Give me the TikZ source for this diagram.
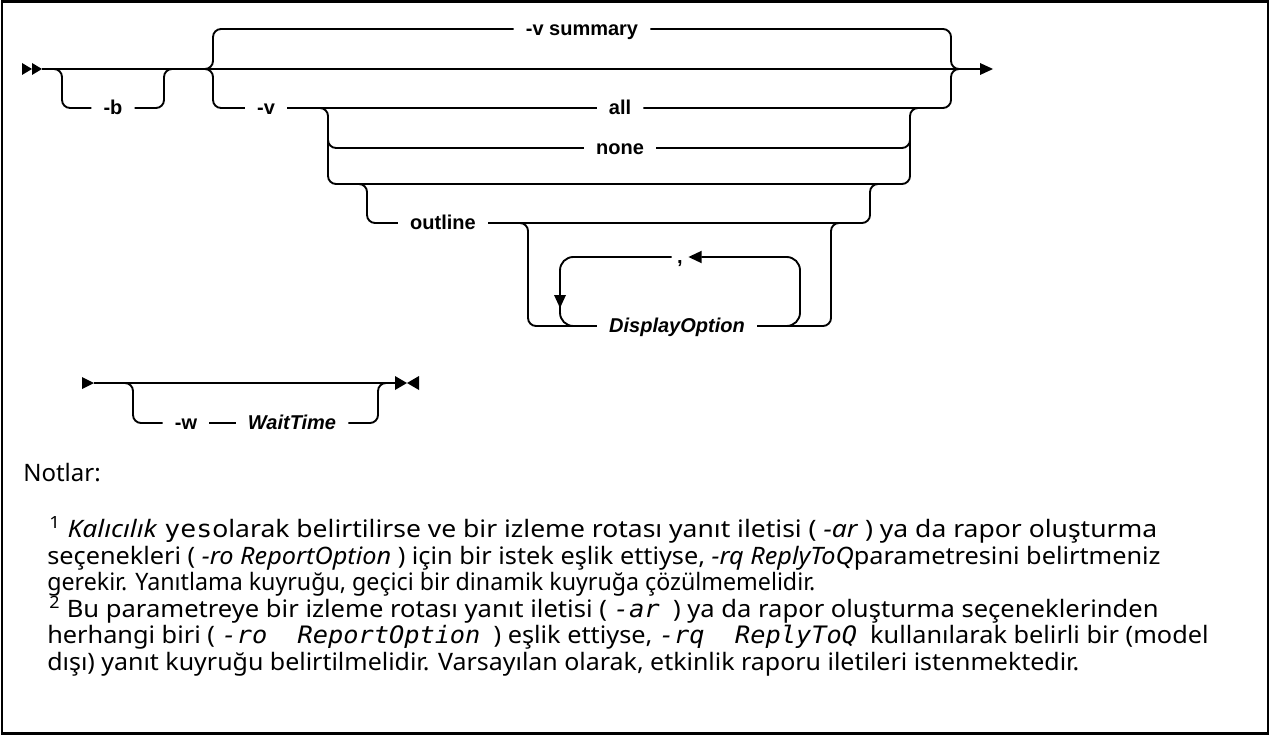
\documentclass[tikz,border=0pt]{standalone}
\usepackage{fontspec}
\usepackage{graphicx}
\setmainfont{Noto Sans}
\setmonofont{DejaVu Sans Mono}
\newfontfamily\lblfont{Liberation Sans}
\usetikzlibrary{arrows.meta}
\newcommand{\fitline}[2]{\resizebox{#1}{\height}{#2}}
\begin{document}
\begin{tikzpicture}[x=0.75pt,y=-0.75pt,
  rail/.style={line width=1.4pt, rounded corners=6pt},
  loop/.style={line width=1.4pt, rounded corners=10pt},
  lbl/.style={font=\lblfont\bfseries\fontsize{15}{17}\selectfont, text height=11pt, text depth=1.5pt, inner xsep=9pt, inner ysep=0pt},
  ilbl/.style={lbl, font=\lblfont\bfseries\itshape\fontsize{15}{17}\selectfont},
  tipfill/.style={fill=black, draw=none},
  note/.style={anchor=base west, inner sep=0pt, font=\fontsize{18}{20}\selectfont}
]
\useasboundingbox (0,0) rectangle (1275,735);
\draw[line width=1.8pt] (2,1.5) rectangle (1268,733.5);

% ---------- diagram 1 ----------
\fill[tipfill] (22,63) -- (32,69) -- (22,75) -- cycle;
\fill[tipfill] (32,63) -- (42,69) -- (32,75) -- cycle;
\coordinate (start1) at (42,69);
\coordinate (end1) at (981,69);
\draw[rail] (start1) -- (end1);
\fill[tipfill] (980,63) -- (993,69) -- (980,75) -- cycle;

\node[lbl] (b) at (113,108) {-b};
\draw[rail] (50,69) -| (62,108) -- (b.west);
\draw[rail] (b.east) -| (164,69) -- (176,69);

\node[lbl] (vsum) at (582,29) {-v summary};
\draw[rail] (201,69) -| (213,29) -- (vsum.west);
\draw[rail] (vsum.east) -| (951,69) -- (963,69);

\node[lbl] (v) at (266,108) {-v};
\draw[rail] (201,69) -| (213,108) -- (v.west);
\node[lbl] (all) at (620,108) {all};
\draw[rail] (v.east) -- (all.west);
\draw[rail] (all.east) -| (951,69) -- (963,69);

\draw[rail] (318,108) -| (328,184) -| (910,108) -- (922,108);
\node[lbl] (none) at (620,148) {none};
\draw[rail] (328,134) |- (none.west);
\draw[rail] (none.east) -| (910,134);

\node[lbl] (outl) at (443,223) {outline};
\draw[rail] (355,184) -| (367,223) -- (outl.west);
\draw[rail] (outl.east) -| (870,184) -- (882,184);

\node[ilbl] (dopt) at (677,326) {DisplayOption};
\draw[rail] (516,223) -| (528,326) -- (dopt.west);
\draw[rail] (dopt.east) -| (831,223) -- (843,223);

\node[lbl, inner xsep=4pt] (comma) at (680,257) {,};
\draw[loop, -{Triangle[length=10pt,width=9pt]}] (780,326) -| (800,257) -- (comma.east);
\draw[loop] (comma.west) -| (560,326) -- (580,326);
\fill[tipfill] (554,295) -- (566,295) -- (560,308) -- cycle;

% ---------- diagram 2 ----------
\fill[tipfill] (82,377) -- (94,383) -- (82,389) -- cycle;
\coordinate (start2) at (94,383);
\coordinate (end2) at (396,383);
\draw[rail] (start2) -- (end2);
\fill[tipfill] (395,376) -- (407,383) -- (395,390) -- cycle;
\fill[tipfill] (419,376) -- (407,383) -- (419,390) -- cycle;
\node[lbl] (w) at (186,423) {-w};
\node[ilbl] (wt) at (292,423) {WaitTime};
\draw[rail] (121,383) -| (133,423) -- (w.west);
\draw[rail] (w.east) -- (wt.west);
\draw[rail] (wt.east) -| (378,383) -- (390,383);

% ---------- notes ----------
\node[note] (notlar) at (23,481) {Notlar:};
\node[note] (n1) at (49,537) {\fitline{831pt}{\textsuperscript{1} \textit{Kalıcılık} \texttt{yes}olarak belirtilirse ve bir izleme rotası yanıt iletisi ( \textit{-ar} ) ya da rapor oluşturma}};
\node[note] (n2) at (47,564) {\fitline{835pt}{seçenekleri ( \textit{-ro ReportOption} ) için bir istek eşlik ettiyse, \textit{-rq ReplyToQ}parametresini belirtmeniz}};
\node[note] (n3) at (47,590) {\fitline{576pt}{gerekir. Yanıtlama kuyruğu, geçici bir dinamik kuyruğa çözülmemelidir.}};
\node[note] (n4) at (49,617) {\fitline{832pt}{\textsuperscript{2} Bu parametreye bir izleme rotası yanıt iletisi ( \texttt{\itshape -ar}\ \ ) ya da rapor oluşturma seçeneklerinden}};
\node[note] (n5) at (47,643) {\fitline{871pt}{herhangi biri ( \texttt{\itshape -ro\ \ ReportOption}\ \ ) eşlik ettiyse, \texttt{\itshape -rq\ \ ReplyToQ}\ \ kullanılarak belirli bir (model}};
\node[note] (n6) at (47,670) {\fitline{774pt}{dışı) yanıt kuyruğu belirtilmelidir. Varsayılan olarak, etkinlik raporu iletileri istenmektedir.}};
\end{tikzpicture}
\end{document}
